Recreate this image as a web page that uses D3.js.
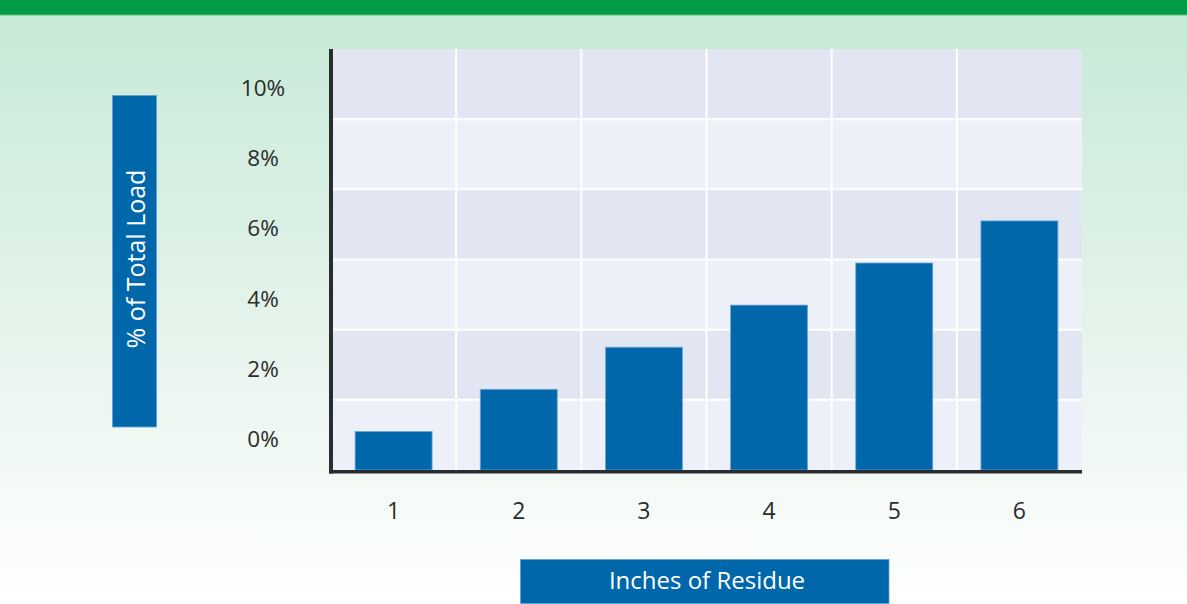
<!DOCTYPE html>
<html>
<head>
<meta charset="utf-8">
<script src="https://cdn.jsdelivr.net/npm/d3@7"></script>
<style>
  html, body { margin: 0; padding: 0; background: #ffffff; }
  svg { display: block; }
  text { font-family: "Open Sans", "Noto Sans", sans-serif; }
</style>
</head>
<body>
<svg id="chart" width="1187" height="604"></svg>
<script>
// Share of total load by inches of residue
const categories = ["1", "2", "3", "4", "5", "6"];
const values = [1.1, 2.3, 3.5, 4.7, 5.9, 7.1];      // % of total load
const yTicks = [0, 2, 4, 6, 8, 10];
const yTickLabels = ["0%", "2%", "4%", "6%", "8%", "10%"];
const yTitle = "% of Total Load";
const xTitle = "Inches of Residue";

const W = 1187, H = 604;
const plot = { left: 331, right: 1082, top: 49, bottom: 470 };

const svg = d3.select("#chart");
const defs = svg.append("defs");

// page background: soft green fading to white
const bg = defs.append("linearGradient")
  .attr("id", "bgGrad").attr("x1", 0).attr("y1", 0).attr("x2", 0).attr("y2", 1);
bg.append("stop").attr("offset", "0%").attr("stop-color", "#c7e9d6");
bg.append("stop").attr("offset", "55%").attr("stop-color", "#e6f4ec");
bg.append("stop").attr("offset", "100%").attr("stop-color", "#ffffff");

svg.append("rect").attr("x", 0).attr("y", 15).attr("width", W).attr("height", H - 15)
  .attr("fill", "url(#bgGrad)");

// top green band
svg.append("rect").attr("x", 0).attr("y", 0).attr("width", W).attr("height", 15)
  .attr("fill", "#009a48");
svg.append("rect").attr("x", 0).attr("y", 14.5).attr("width", W).attr("height", 1)
  .attr("fill", "#5fbf86");

// scales
const y = d3.scaleLinear().domain([0, 12]).range([plot.bottom, plot.top]);
const x = d3.scaleBand().domain(categories)
  .range([plot.left, plot.right])
  .paddingInner(0.385).paddingOuter(0.1925);
const step = x.step();
const bandStart = c => x(c) - x.paddingOuter() * step;

// alternating horizontal bands
const bands = d3.range(0, 12, 2);
svg.append("g").selectAll("rect").data(bands).join("rect")
  .attr("x", plot.left)
  .attr("width", plot.right - plot.left)
  .attr("y", d => y(d + 2))
  .attr("height", d => y(d) - y(d + 2))
  .attr("fill", d => (d / 2) % 2 === 0 ? "#edf0f8" : "#e2e6f2");

// white grid lines
const grid = svg.append("g").attr("stroke", "#ffffff").attr("stroke-width", 2);
grid.selectAll("line.h").data(d3.range(2, 12, 2)).join("line")
  .attr("class", "h")
  .attr("x1", plot.left).attr("x2", plot.right)
  .attr("y1", d => y(d)).attr("y2", d => y(d));
grid.selectAll("line.v").data(categories.slice(1)).join("line")
  .attr("class", "v")
  .attr("x1", d => bandStart(d)).attr("x2", d => bandStart(d))
  .attr("y1", plot.top).attr("y2", plot.bottom);

// bars
svg.append("g").selectAll("rect").data(values).join("rect")
  .attr("x", (d, i) => x(categories[i]))
  .attr("width", x.bandwidth())
  .attr("y", d => y(d))
  .attr("height", d => y(0) - y(d))
  .attr("fill", "#0067ab")
  .attr("stroke", "#6fa8d8")
  .attr("stroke-width", 0.8);

// axis lines
svg.append("line")
  .attr("x1", plot.left).attr("x2", plot.left)
  .attr("y1", plot.top).attr("y2", plot.bottom + 3.5)
  .attr("stroke", "#2a2d2f").attr("stroke-width", 4);
svg.append("line")
  .attr("x1", plot.left - 2).attr("x2", plot.right)
  .attr("y1", plot.bottom + 1.8).attr("y2", plot.bottom + 1.8)
  .attr("stroke", "#2a2d2f").attr("stroke-width", 3.6);

// y tick labels, set inside each band
const bandH = y(0) - y(2);
svg.append("g").selectAll("text").data(yTicks).join("text")
  .attr("x", 263)
  .attr("y", d => y(d) - bandH * 0.45)
  .attr("text-anchor", "middle")
  .attr("dominant-baseline", "central")
  .attr("font-size", 22.5)
  .attr("fill", "#2b2b2b")
  .text((d, i) => yTickLabels[i]);

// x tick labels
svg.append("g").selectAll("text").data(categories).join("text")
  .attr("x", d => x(d) + x.bandwidth() / 2)
  .attr("y", 519)
  .attr("text-anchor", "middle")
  .attr("font-size", 23)
  .attr("fill", "#2b2b2b")
  .text(d => d);

// y axis title box
svg.append("rect")
  .attr("x", 112.5).attr("y", 95.5).attr("width", 44).attr("height", 331.5)
  .attr("fill", "#0067ab").attr("stroke", "#5fa0d6").attr("stroke-width", 0.8);
svg.append("text")
  .attr("transform", "translate(134.5,259) rotate(-90)")
  .attr("text-anchor", "middle")
  .attr("dominant-baseline", "central")
  .attr("font-size", 25)
  .attr("fill", "#ffffff")
  .text(yTitle);

// x axis title box
svg.append("rect")
  .attr("x", 520.5).attr("y", 559.5).attr("width", 368.5).attr("height", 44)
  .attr("fill", "#0067ab").attr("stroke", "#5fa0d6").attr("stroke-width", 0.8);
svg.append("text")
  .attr("x", 707).attr("y", 588.5)
  .attr("text-anchor", "middle")
  .attr("font-size", 24)
  .attr("fill", "#ffffff")
  .text(xTitle);
</script>
</body>
</html>
